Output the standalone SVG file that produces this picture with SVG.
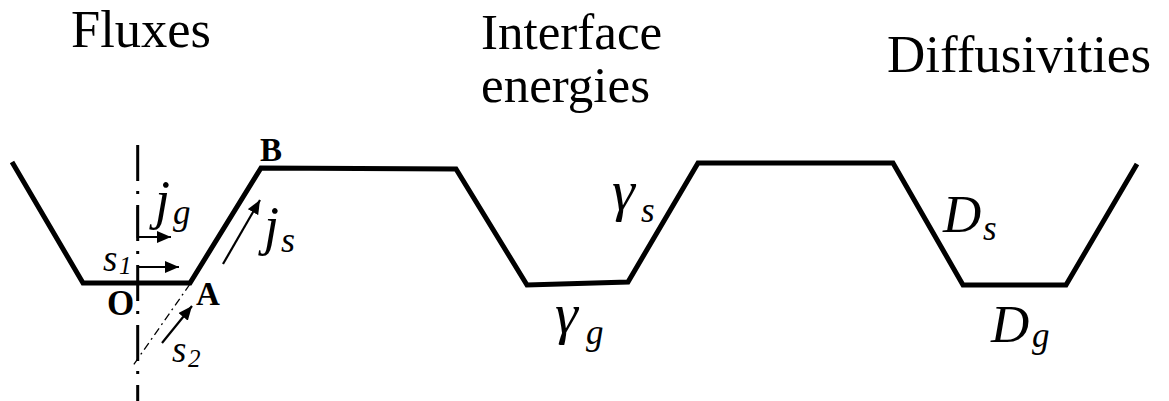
<svg xmlns="http://www.w3.org/2000/svg" width="1169" height="401" viewBox="0 0 1169 401">
<style>
.t{font-family:"Liberation Serif","Times New Roman",serif;fill:#000}
.i{font-style:italic}
.b{font-weight:bold}
.prof{fill:none;stroke:#000;stroke-width:5;stroke-linejoin:miter}
.arr{fill:none;stroke:#000;stroke-width:2.2}
</style>
<defs>
<marker id="ah" markerUnits="userSpaceOnUse" markerWidth="14" markerHeight="12" refX="14" refY="6" orient="auto">
<path d="M0,0 L14,6 L0,12 z" fill="#000"/>
</marker>
</defs>
<rect width="1169" height="401" fill="#fff"/>
<g id="titles">
<text class="t" x="71" y="47" font-size="52.5">Fluxes</text>
<text class="t" x="481" y="49" font-size="51">Interface</text>
<text class="t" x="481" y="102" font-size="51">energies</text>
<text class="t" x="887" y="72" font-size="53">Diffusivities</text>
</g>
<g id="profile">
<polyline class="prof" points="12,162 83,283 190,283 261,168 456,169 527,285 628,282 698,163 893,163 963,285 1066,285 1137,164"/>
</g>
<g id="connectors">
<line x1="137.7" y1="145" x2="137.7" y2="401" stroke="#000" stroke-width="3" stroke-dasharray="36 10 3 11"/>
<line x1="190" y1="284" x2="132" y2="367" stroke="#000" stroke-width="1.3" stroke-dasharray="8 4 2 4"/>
<path class="arr" d="M137.7,207 V237 H171" marker-end="url(#ah)"/>
<path class="arr" d="M137.7,267 H179" marker-end="url(#ah)"/>
<path class="arr" d="M223,264 L260,200" marker-end="url(#ah)"/>
<path class="arr" d="M162,343 L192,306" marker-end="url(#ah)"/>
</g>
<g id="point-labels">
<text class="t b" x="260" y="161" font-size="33">B</text>
<text class="t b" x="107" y="315" font-size="35">O</text>
<text class="t b" x="196" y="305" font-size="33">A</text>
</g>
<g id="flux-labels">
<text class="t i" x="155" y="218" font-size="54">j</text>
<text class="t i" x="173" y="224" font-size="35">g</text>
<text class="t i" x="264" y="244" font-size="54">j</text>
<text class="t i" x="281" y="252" font-size="36">s</text>
<text class="t i" x="103" y="271" font-size="37">s</text>
<text class="t i" x="119" y="274" font-size="25">1</text>
<text class="t i" x="172" y="362" font-size="37">s</text>
<text class="t i" x="188" y="367" font-size="25">2</text>
</g>
<g id="energy-labels">
<text class="t i" x="612" y="210" font-size="58">γ</text>
<text class="t i" x="641" y="222" font-size="35">s</text>
<text class="t i" x="555" y="333" font-size="58">γ</text>
<text class="t i" x="586" y="344" font-size="35">g</text>
</g>
<g id="diffusivity-labels">
<text class="t i" x="943" y="232" font-size="53">D</text>
<text class="t i" x="983" y="240" font-size="35">s</text>
<text class="t i" x="991" y="342" font-size="53">D</text>
<text class="t i" x="1032" y="347" font-size="35">g</text>
</g>
</svg>
